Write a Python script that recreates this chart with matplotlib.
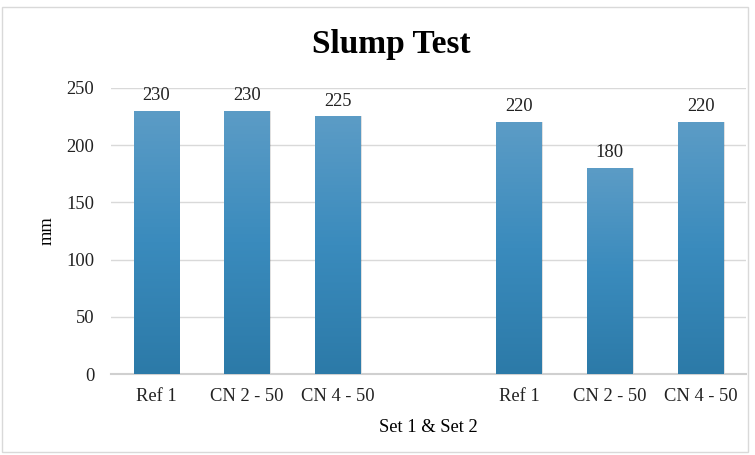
import numpy as np
import matplotlib.pyplot as plt
from matplotlib.patches import Rectangle
from matplotlib.colors import LinearSegmentedColormap

plt.rcParams['font.family'] = ['Liberation Serif', 'DejaVu Serif']

# Slump test values, Set 1 and Set 2 (blank slot between the sets)
categories = ["Ref 1", "CN 2 - 50", "CN 4 - 50", "", "Ref 1", "CN 2 - 50", "CN 4 - 50"]
slump_mm = [230, 230, 225, None, 220, 180, 220]
y_ticks = [0, 50, 100, 150, 200, 250]

fig = plt.figure(figsize=(7.55, 4.55), dpi=100)
ax = fig.add_axes([0.147, 0.178, 0.841, 0.629])

# outer chart frame
fig.patches.append(Rectangle((0.003, 0.006), 0.988, 0.979, transform=fig.transFigure,
                             fill=False, edgecolor='#d9d9d9', linewidth=1.0))

x = np.arange(len(categories))
vals = [v if v is not None else 0 for v in slump_mm]
bars = ax.bar(x, vals, width=0.5, color='none', edgecolor='none', zorder=3)

# vertical gradient fill, lighter at the top
cmap = LinearSegmentedColormap.from_list('blu', ['#2c7aa8', '#3a8bbd', '#5c9cc6'])
grad = np.linspace(0, 1, 256).reshape(-1, 1)
for b, v in zip(bars, slump_mm):
    if v is None:
        continue
    x0, w, h = b.get_x(), b.get_width(), b.get_height()
    # soft shadow
    ax.add_patch(Rectangle((x0 + 0.015, 0), w, h, facecolor='#000000', alpha=0.12,
                           edgecolor='none', zorder=2))
    im = ax.imshow(grad, extent=(x0, x0 + w, 0, h), origin='lower', cmap=cmap,
                   aspect='auto', zorder=3)
    im.set_clip_path(b)
    ax.text(b.get_x() + w / 2, h + 6, str(v), ha='center', va='bottom',
            fontsize=13.3, color='#222222')

ax.set_xlim(-0.5, len(categories) - 0.5)
ax.set_ylim(0, 250)
ax.set_yticks(y_ticks)
ax.set_xticks(x)
ax.set_xticklabels(categories)
ax.tick_params(axis='both', length=0, labelsize=13.3, colors='#222222')
ax.tick_params(axis='x', pad=10)
ax.tick_params(axis='y', pad=12)

ax.yaxis.grid(True, color='#d9d9d9', linewidth=1.0, zorder=0)
ax.set_axisbelow(True)
for s in ['left', 'right', 'top']:
    ax.spines[s].set_visible(False)
ax.spines['bottom'].set_color('#d0d0d0')
ax.spines['bottom'].set_linewidth(1.5)

fig.text(391 / 755, 1 - 45 / 455, "Slump Test", fontsize=24, fontweight='bold',
         ha='center', va='center')
ax.set_xlabel("Set 1 & Set 2", fontsize=13.3, labelpad=10)
ax.set_ylabel("mm", fontsize=13.3, labelpad=8)

plt.savefig("out.png", dpi=100)
